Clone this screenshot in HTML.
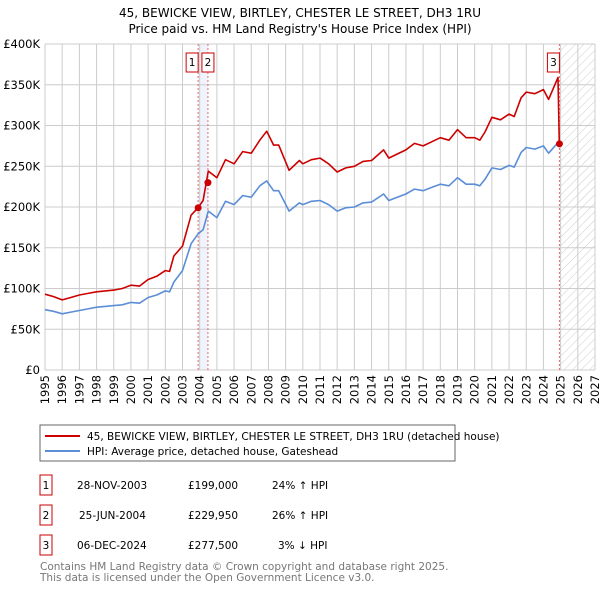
<!DOCTYPE html>
<html><head><meta charset="utf-8"><style>
body{margin:0;background:#fff;font-family:"Liberation Sans","DejaVu Sans",sans-serif;}
svg text{font-family:"DejaVu Sans","Liberation Sans",sans-serif;}
</style></head><body>
<svg id="c" width="600" height="590" viewBox="0 0 600 590">
<defs><pattern id="hatch" width="6" height="6" patternUnits="userSpaceOnUse" patternTransform="rotate(45)"><line x1="0" y1="0" x2="0" y2="6" stroke="#ccc" stroke-width="1"/></pattern></defs>
<text x="300" y="17" text-anchor="middle" font-size="12">45, BEWICKE VIEW, BIRTLEY, CHESTER LE STREET, DH3 1RU</text>
<text x="300" y="33" text-anchor="middle" font-size="12">Price paid vs. HM Land Registry's House Price Index (HPI)</text>
<g id="grid"></g><g id="marks"></g>
<rect x="40" y="425" width="415" height="36" fill="#fff" stroke="#666"/>
<line x1="45" y1="436" x2="80" y2="436" stroke="#cc0000" stroke-width="2"/>
<text x="87" y="440" font-size="10.5">45, BEWICKE VIEW, BIRTLEY, CHESTER LE STREET, DH3 1RU (detached house)</text>
<line x1="45" y1="451" x2="80" y2="451" stroke="#5b8ed6" stroke-width="2"/>
<text x="87" y="455" font-size="10.5">HPI: Average price, detached house, Gateshead</text>
<g font-size="10.5">
<rect x="40" y="475" width="12" height="20" fill="none" stroke="#cc0000"/><text x="46" y="489" text-anchor="middle">1</text>
<text x="77" y="489">28-NOV-2003</text><text x="188" y="489">£199,000</text><text x="272" y="489">24% ↑ HPI</text>
<rect x="40" y="505" width="12" height="20" fill="none" stroke="#cc0000"/><text x="46" y="519" text-anchor="middle">2</text>
<text x="79" y="519">25-JUN-2004</text><text x="188" y="519">£229,950</text><text x="272" y="519">26% ↑ HPI</text>
<rect x="40" y="535" width="12" height="20" fill="none" stroke="#cc0000"/><text x="46" y="549" text-anchor="middle">3</text>
<text x="77" y="549">06-DEC-2024</text><text x="188" y="549">£277,500</text><text x="278" y="549">3% ↓ HPI</text>
</g>
<text x="40" y="570" font-size="10.5" fill="#777">Contains HM Land Registry data © Crown copyright and database right 2025.</text>
<text x="40" y="581" font-size="10.5" fill="#777">This data is licensed under the Open Government Licence v3.0.</text>
</svg>
<script>
const dates=[1995,1995.5,1996,1996.5,1997,1997.5,1998,1998.5,1999,1999.5,2000,2000.5,2001,2001.5,2002,2002.25,2002.5,2003,2003.5,2003.9,2004.2,2004.5,2005,2005.5,2006,2006.5,2007,2007.5,2007.9,2008.3,2008.6,2009.2,2009.8,2010,2010.5,2011,2011.5,2012,2012.5,2013,2013.5,2014,2014.7,2015,2015.5,2016,2016.5,2017,2017.5,2018,2018.5,2019,2019.5,2020,2020.3,2020.6,2021,2021.5,2022,2022.3,2022.7,2023,2023.5,2024,2024.3,2024.85,2024.92];
const hpi=[74,72,69,71,73,75,77,78,79,80,83,82,89,92,97,96,108,122,155,167,172,195,187,207,203,214,212,226,232,220,220,195,205,203,207,208,203,195,199,200,205,206,216,208,212,216,222,220,224,228,226,236,228,228,226,234,248,246,251,249,267,273,271,275,266,279,280];
const price=[93,90,86,89,92,94,96,97,98,100,104,103,111,115,122,121,140,152,190,199,208,244,236,258,253,268,266,282,293,276,276,245,257,253,258,260,253,243,248,250,256,257,270,260,265,270,278,275,280,285,282,295,285,285,282,292,310,307,314,311,334,341,339,344,332,359,277.5];
const yTicks=[0,50,100,150,200,250,300,350,400];
const yLabels=["£0","£50K","£100K","£150K","£200K","£250K","£300K","£350K","£400K"];
const xTicks=[1995,1996,1997,1998,1999,2000,2001,2002,2003,2004,2005,2006,2007,2008,2009,2010,2011,2012,2013,2014,2015,2016,2017,2018,2019,2020,2021,2022,2023,2024,2025,2026,2027];
const sales=[[2003.91,199],[2004.48,229.95],[2024.93,277.5]];
const X0=45,X1=595,Y0=370,Y1=44;
const xs=d=>X0+(d-1995)/(2027-1995)*(X1-X0);
const ys=v=>Y0-v/400*(Y0-Y1);
const NS="http://www.w3.org/2000/svg";
function mk(p,t,a){const e=document.createElementNS(NS,t);for(const k in a)e.setAttribute(k,a[k]);p.appendChild(e);return e;}
const g=document.getElementById('grid'),m=document.getElementById('marks');
let b=mk(g,'rect',{x:xs(sales[0][0]),y:Y1,width:xs(sales[1][0])-xs(sales[0][0]),height:Y0-Y1,fill:'#eef3fc'});


let h=mk(g,'rect',{x:xs(sales[2][0]),y:Y1,width:X1-xs(sales[2][0]),height:Y0-Y1,fill:'url(#hatch)'});


yTicks.forEach((v,i)=>{
 const l=mk(g,'line',{x1:X0,x2:X1,y1:ys(v),y2:ys(v),stroke:'#ccc'});
 
 
 const t=mk(g,'text',{x:40,y:ys(v)+4,'text-anchor':'end','font-size':'11.5'});t.textContent=yLabels[i];
 
 
});
xTicks.forEach(v=>{
 const l=mk(g,'line',{x1:xs(v),x2:xs(v),y1:Y1,y2:Y0,stroke:'#ccc'});
 
 
 const tx=xs(v)+4,ty=375;
 const t=mk(g,'text',{x:tx,y:ty,'text-anchor':'end','font-size':'11.5',transform:'rotate(-90 '+tx+' '+ty+')'});t.textContent=v;
 
 
});
sales.forEach((s,i)=>{
 const l=mk(m,'line',{x1:xs(s[0]),x2:xs(s[0]),y1:Y1,y2:Y0,stroke:'#e66','stroke-dasharray':'2,2'});
 
 
});
function path(vals,col,name){
 const d=vals.map((v,i)=>(i?'L':'M')+xs(dates[i]).toFixed(1)+','+ys(v).toFixed(1)).join('');
 const p=mk(m,'path',{d:d,fill:'none',stroke:col,'stroke-width':1.6,'stroke-linejoin':'round'});
 
 
}
path(hpi.slice(0,dates.length-1),'#5b8ed6','hpi-line');
path(price,'#cc0000','price-line');
const boxX=[xs(sales[0][0])-12,xs(sales[1][0])-6,xs(sales[2][0])-12];
sales.forEach((s,i)=>{
 const c=mk(m,'circle',{cx:xs(s[0]),cy:ys(s[1]),r:3.5,fill:'#cc0000'});
 
 
 const r=mk(m,'rect',{x:boxX[i],y:53,width:12,height:19,fill:'#fff',stroke:'#cc0000'});
 
 
 const t=mk(m,'text',{x:boxX[i]+6,y:66,'text-anchor':'middle','font-size':'10.5'});t.textContent=String(i+1);
 
 
});
</script>
</body></html>
